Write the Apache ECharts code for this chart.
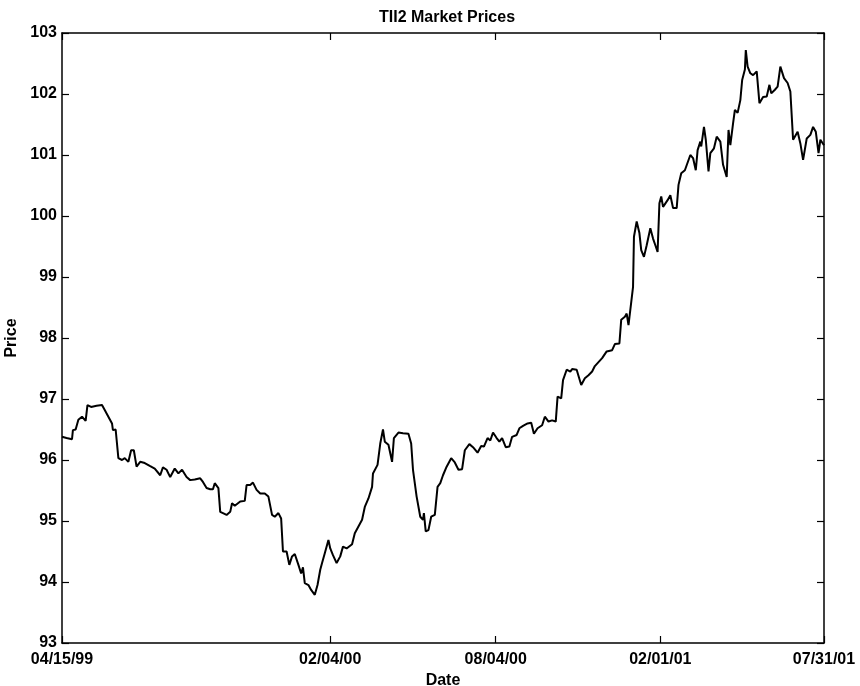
<!DOCTYPE html>
<html>
<head>
<meta charset="utf-8">
<title>TII2 Market Prices</title>
<script src="https://cdn.jsdelivr.net/npm/echarts@6/dist/echarts.min.js"></script>
<style>
  html, body { margin: 0; padding: 0; background: #fff; }
  #chart { width: 860px; height: 686px; }
</style>
</head>
<body>
<div id="chart"></div>
<script>
// days counted from 04/15/99
var tickDays = [0, 295, 477, 658, 838];
var tickLabels = ['04/15/99', '02/04/00', '08/04/00', '02/01/01', '07/31/01'];

var days = [
  0, 5, 11, 12, 15, 18, 22, 24, 26, 28, 32, 34, 38, 44, 47, 51, 55, 56, 59, 62,
  66, 69, 73, 76, 79, 82, 86, 91, 97, 102, 108, 111, 115, 119, 124, 128, 132, 137, 141, 146,
  152, 155, 159, 163, 166, 168, 172, 174, 177, 181, 185, 187, 190, 192, 196, 201, 203, 207, 210, 214,
  218, 223, 227, 231, 234, 238, 241, 243, 247, 250, 253, 256, 260, 263, 265, 267, 271, 274, 276, 278,
  281, 284, 286, 289, 293, 295, 298, 302, 306, 309, 313, 319, 322, 326, 330, 333, 337, 341, 342, 347,
  350, 353, 355, 359, 363, 365, 370, 375, 377, 381, 384, 386, 390, 394, 397, 398, 400, 403, 406, 410,
  413, 416, 419, 423, 428, 432, 436, 440, 443, 448, 452, 457, 461, 464, 468, 471, 474, 478, 481, 484,
  488, 492, 495, 500, 503, 507, 512, 516, 519, 523, 528, 531, 535, 539, 543, 545, 549, 551, 555, 559,
  561, 566, 571, 575, 579, 583, 586, 594, 599, 605, 608, 613, 615, 619, 621, 623, 625, 628, 629, 632,
  635, 637, 640, 643, 647, 650, 653, 655, 657, 659, 661, 666, 669, 672, 676, 678, 681, 685, 691, 694,
  697, 699, 702, 703, 706, 708, 711, 713, 717, 720, 724, 727, 731, 733, 735, 738, 740, 743, 746, 748,
  751, 752, 754, 757, 760, 764, 767, 771, 775, 778, 780, 784, 787, 790, 794, 798, 801, 804, 809, 812,
  815, 819, 823, 826, 829, 832, 834, 838
];

var prices = [
  96.38, 96.36, 96.34, 96.49, 96.50, 96.66, 96.71, 96.74, 96.64, 96.90, 96.87, 96.85, 96.89, 96.90, 96.82, 96.71, 96.60, 96.49, 96.50, 96.03,
  96.00, 96.03, 95.97, 96.16, 96.16, 95.89, 95.97, 95.95, 95.90, 95.86, 95.75, 95.88, 95.84, 95.72, 95.86, 95.78, 95.84, 95.72, 95.67, 95.68,
  95.70, 95.64, 95.54, 95.52, 95.52, 95.62, 95.54, 95.15, 95.13, 95.10, 95.15, 95.29, 95.25, 95.23, 95.32, 95.33, 95.59, 95.59, 95.63, 95.51,
  95.45, 95.45, 95.40, 95.10, 95.07, 95.13, 95.04, 94.50, 94.50, 94.28, 94.42, 94.46, 94.28, 94.14, 94.24, 93.98, 93.95, 93.87, 93.84, 93.79,
  93.95, 94.20, 94.31, 94.47, 94.69, 94.55, 94.44, 94.31, 94.42, 94.58, 94.55, 94.62, 94.80, 94.91, 95.02, 95.23, 95.37, 95.56, 95.78, 95.92,
  96.27, 96.50, 96.30, 96.25, 95.97, 96.36, 96.45, 96.44, 96.41, 96.43, 96.27, 95.84, 95.40, 95.07, 95.02, 95.13, 94.83, 94.85, 95.07, 95.10,
  95.56, 95.62, 95.75, 95.89, 96.03, 95.96, 95.84, 95.85, 96.16, 96.26, 96.21, 96.12, 96.23, 96.22, 96.36, 96.32, 96.45, 96.36, 96.30, 96.36,
  96.21, 96.22, 96.38, 96.41, 96.52, 96.56, 96.60, 96.61, 96.43, 96.52, 96.57, 96.71, 96.63, 96.65, 96.63, 97.04, 97.01, 97.31, 97.48, 97.45,
  97.49, 97.48, 97.23, 97.34, 97.39, 97.45, 97.54, 97.67, 97.78, 97.80, 97.90, 97.91, 98.30, 98.35, 98.40, 98.21, 98.20, 98.84, 99.66, 99.91,
  99.72, 99.44, 99.33, 99.52, 99.80, 99.63, 99.50, 99.41, 100.21, 100.32, 100.15, 100.26, 100.34, 100.13, 100.13, 100.51, 100.70, 100.75, 101.00, 100.95,
  100.75, 101.08, 101.22, 101.14, 101.46, 101.25, 100.73, 101.03, 101.11, 101.30, 101.22, 100.84, 100.64, 101.41, 101.16, 101.52, 101.74, 101.69, 101.90, 102.23,
  102.40, 102.72, 102.45, 102.34, 102.31, 102.37, 101.85, 101.95, 101.96, 102.15, 102.01, 102.07, 102.12, 102.45, 102.26, 102.18, 102.04, 101.25, 101.38, 101.19,
  100.92, 101.27, 101.33, 101.46, 101.38, 101.03, 101.25, 101.16
];

var seriesData = days.map(function (d, i) {
  return [d, prices[i]];
});

var font = 'Liberation Sans, Arial, Helvetica, sans-serif';
var labelStyle = { color: '#000', fontFamily: font, fontWeight: 'bold', fontSize: 16 };

var chart = echarts.init(document.getElementById('chart'), null, { renderer: 'canvas' });

var option = {
  backgroundColor: '#fff',
  animation: false,
  title: {
    text: 'TII2 Market Prices',
    left: 442,
    textAlign: 'center',
    top: 5,
    textStyle: { color: '#000', fontFamily: font, fontWeight: 'bold', fontSize: 16 }
  },
  grid: { left: 62, right: 36, top: 33, bottom: 43, containLabel: false, outerBoundsMode: 'none' },
  xAxis: [{
    type: 'value',
    min: 0,
    max: 838,
    name: 'Date',
    nameLocation: 'middle',
    nameGap: 26,
    nameTextStyle: labelStyle,
    splitLine: { show: false },
    axisLine: { lineStyle: { color: '#000', width: 1.5 } },
    axisTick: { inside: true, length: 7, lineStyle: { color: '#000', width: 1.2 }, customValues: tickDays },
    axisLabel: {
      customValues: tickDays,
      margin: 9,
      color: '#000', fontFamily: font, fontWeight: 'bold', fontSize: 16,
      formatter: function (v) {
        var i = tickDays.indexOf(v);
        return i >= 0 ? tickLabels[i] : '';
      }
    }
  }, {
    type: 'value',
    position: 'top',
    min: 0,
    max: 838,
    splitLine: { show: false },
    axisLine: { show: true, onZero: false, lineStyle: { color: '#000', width: 1.5 } },
    axisTick: { inside: true, length: 7, lineStyle: { color: '#000', width: 1.2 }, customValues: tickDays },
    axisLabel: { show: false }
  }],
  yAxis: [{
    type: 'value',
    min: 93,
    max: 103,
    interval: 1,
    name: 'Price',
    nameLocation: 'middle',
    nameGap: 37,
    nameTextStyle: labelStyle,
    splitLine: { show: false },
    axisLine: { show: true, lineStyle: { color: '#000', width: 1.5 } },
    axisTick: { inside: true, length: 7, lineStyle: { color: '#000', width: 1.2 } },
    axisLabel: { margin: 5, color: '#000', fontFamily: font, fontWeight: 'bold', fontSize: 16 }
  }, {
    type: 'value',
    position: 'right',
    min: 93,
    max: 103,
    interval: 1,
    splitLine: { show: false },
    axisLine: { show: true, onZero: false, lineStyle: { color: '#000', width: 1.5 } },
    axisTick: { inside: true, length: 7, lineStyle: { color: '#000', width: 1.2 } },
    axisLabel: { show: false }
  }],
  series: [{
    type: 'line',
    xAxisIndex: 0,
    yAxisIndex: 0,
    showSymbol: false,
    symbol: 'none',
    lineStyle: { color: '#000', width: 2 },
    data: seriesData
  }]
};

chart.setOption(option);
</script>
</body>
</html>
